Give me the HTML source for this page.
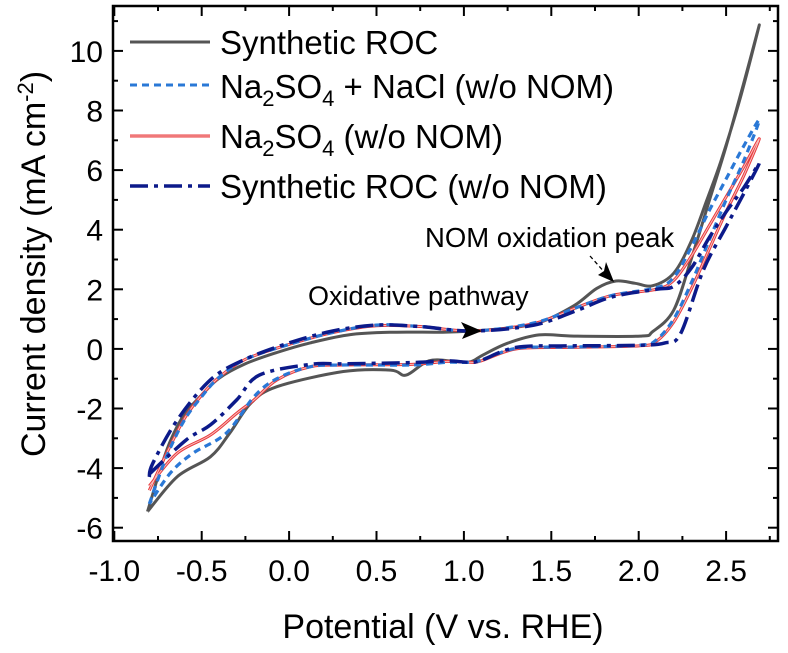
<!DOCTYPE html>
<html><head><meta charset="utf-8"><style>
body{margin:0;background:#fff;}
svg text{font-family:"Liberation Sans",Arial,sans-serif;fill:#000;}
</style></head><body>
<svg id="chart" width="788" height="648" viewBox="0 0 788 648" xmlns="http://www.w3.org/2000/svg">
<g id="axes"></g>
<g id="series"></g>
<g>
 <line x1="130" y1="42" x2="210" y2="42" stroke="#555" stroke-width="3"/>
 <text x="220" y="54" font-size="33">Synthetic ROC</text>
 <line x1="130" y1="85" x2="210" y2="85" stroke="#2a78d6" stroke-width="3" stroke-dasharray="7,5"/>
 <text x="220" y="98" font-size="33">Na<tspan font-size="22" dy="8">2</tspan><tspan dy="-8">SO</tspan><tspan font-size="22" dy="8">4</tspan><tspan dy="-8"> + NaCl (w/o NOM)</tspan></text>
 <line x1="130" y1="136" x2="210" y2="136" stroke="#e8393c" stroke-width="3"/>
 <line x1="130" y1="136" x2="210" y2="136" stroke="#f7b7b5" stroke-width="1"/>
 <text x="220" y="148" font-size="33">Na<tspan font-size="22" dy="8">2</tspan><tspan dy="-8">SO</tspan><tspan font-size="22" dy="8">4</tspan><tspan dy="-8"> (w/o NOM)</tspan></text>
 <line x1="130" y1="186" x2="210" y2="186" stroke="#0c1a8a" stroke-width="3.5" stroke-dasharray="18,6,4,6"/>
 <text x="220" y="198" font-size="33">Synthetic ROC (w/o NOM)</text>
</g>
<g>
 <text x="425" y="247" font-size="27.5">NOM oxidation peak</text>
 <line x1="590" y1="256" x2="606" y2="274" stroke="#000" stroke-width="1.3" stroke-dasharray="4,3"/>
 <polygon points="614,282 598,275 604,271 606,262" fill="#000"/>
 <text x="308" y="305" font-size="27">Oxidative pathway</text>
 <polygon points="482,331 461,322 466,331 462,339" fill="#000"/>
</g>
<text x="443" y="638" font-size="34" text-anchor="middle">Potential (V vs. RHE)</text>
<text transform="translate(45,264) rotate(-90)" font-size="34" text-anchor="middle">Current density (mA cm<tspan font-size="22" dy="-12">-2</tspan><tspan dy="12">)</tspan></text>
</svg>
<script>
const xTicks=[-1.0,-0.5,0.0,0.5,1.0,1.5,2.0,2.5];
const xTickLabels=["-1.0","-0.5","0.0","0.5","1.0","1.5","2.0","2.5"];
const yTicks=[-6,-4,-2,0,2,4,6,8,10];
const yTickLabels=["-6","-4","-2","0","2","4","6","8","10"];
// Synthetic ROC
const rocE=[-0.81,-0.74,-0.68,-0.6,-0.5,-0.4,-0.25,-0.07,0.12,0.35,0.6,0.88,1.05,1.25,1.43,1.63,1.76,1.87,1.98,2.08,2.2,2.3,2.39,2.47,2.58,2.69,2.6,2.5,2.4,2.3,2.2,2.08,2.01,1.63,1.43,1.25,1.11,1.04,0.95,0.8,0.67,0.58,0.31,-0.07,-0.22,-0.34,-0.45,-0.64,-0.81];
const rocI=[-5.46,-4.1,-3.1,-2.2,-1.55,-0.98,-0.5,-0.12,0.2,0.48,0.56,0.56,0.6,0.7,0.88,1.45,2.03,2.28,2.2,2.12,2.54,3.6,5.0,6.3,8.4,10.87,8.9,6.8,4.9,3.0,1.3,0.58,0.43,0.43,0.47,0.19,-0.2,-0.43,-0.42,-0.4,-0.88,-0.71,-0.76,-1.27,-1.83,-2.83,-3.62,-4.29,-5.46];
// Na2SO4 + NaCl
const naclE=[-0.8,-0.7,-0.6,-0.5,-0.4,-0.25,0,0.25,0.5,0.75,1.05,1.4,1.65,1.85,2.1,2.2,2.3,2.4,2.5,2.6,2.69,2.6,2.5,2.4,2.3,2.2,2.1,2.0,1.6,1.3,1.1,1.03,0.9,0.7,0.31,0.12,-0.07,-0.2,-0.36,-0.55,-0.68,-0.8];
const naclI=[-5.2,-3.6,-2.4,-1.6,-0.95,-0.35,0.15,0.55,0.8,0.75,0.6,0.87,1.4,1.8,2.05,2.4,3.4,4.6,5.7,6.8,7.68,6.3,5.0,3.6,2.2,1.0,0.3,0.12,0.06,0.02,-0.38,-0.45,-0.45,-0.54,-0.54,-0.6,-1.0,-1.6,-2.83,-3.5,-4.17,-5.2];
// Na2SO4
const naE=[-0.8,-0.7,-0.6,-0.5,-0.4,-0.25,0,0.25,0.5,0.75,1.05,1.4,1.65,1.85,2.1,2.2,2.3,2.4,2.5,2.6,2.69,2.6,2.5,2.4,2.3,2.2,2.1,2.0,1.6,1.3,1.1,1.03,0.9,0.7,0.31,0.12,-0.07,-0.2,-0.3,-0.45,-0.64,-0.8];
const naI=[-4.75,-3.5,-2.35,-1.55,-0.95,-0.35,0.15,0.55,0.78,0.75,0.6,0.85,1.4,1.8,2.0,2.3,3.1,4.1,5.1,6.1,7.05,5.8,4.6,3.3,2.0,0.9,0.25,0.1,0.05,0.0,-0.4,-0.45,-0.42,-0.52,-0.54,-0.6,-1.04,-1.71,-2.16,-2.89,-3.5,-4.6];
// Synthetic ROC w/o NOM
const woE=[-0.8,-0.78,-0.64,-0.45,-0.26,0,0.25,0.5,0.75,1.05,1.4,1.65,1.85,2.1,2.2,2.3,2.4,2.5,2.6,2.69,2.6,2.5,2.37,2.24,2.15,2.0,1.6,1.3,1.1,1.03,0.9,0.7,0.31,0.12,-0.17,-0.3,-0.45,-0.59,-0.8];
const woI=[-4.3,-3.84,-2.39,-1.04,-0.37,0.2,0.6,0.8,0.75,0.6,0.8,1.3,1.75,2.0,2.1,2.7,3.7,4.6,5.4,6.23,5.2,4.1,2.65,0.52,0.2,0.12,0.1,0.05,-0.38,-0.45,-0.4,-0.46,-0.5,-0.52,-0.88,-1.71,-2.55,-3.06,-4.2];

const X=v=>114.3+(v+1)*174.8;
const Y=v=>348.9-v*29.8;
const NS="http://www.w3.org/2000/svg";
const L=113,R=778,T=6,B=541;
const axes=document.getElementById('axes');
function mk(tag,attrs,parent){const e=document.createElementNS(NS,tag);for(const k in attrs)e.setAttribute(k,attrs[k]);parent.appendChild(e);return e;}
const frame=mk('rect',{x:L,y:T,width:R-L,height:B-T,fill:'none',stroke:'#000','stroke-width':2.5},axes);


xTicks.forEach((v,i)=>{
 const x=X(v);
 const t1=mk('line',{x1:x,y1:B,x2:x,y2:B-10,stroke:'#000','stroke-width':2},axes);
 
 
 const t2=mk('line',{x1:x,y1:T,x2:x,y2:T+10,stroke:'#000','stroke-width':2},axes);
 
 
 const xm=X(v+0.25);
 if(xm<R-2){
  const m1=mk('line',{x1:xm,y1:B,x2:xm,y2:B-5,stroke:'#000','stroke-width':2},axes);
  
  
  const m2=mk('line',{x1:xm,y1:T,x2:xm,y2:T+5,stroke:'#000','stroke-width':2},axes);
  
  
 }
 const lb=mk('text',{x:x,y:B+40,'font-size':30,'text-anchor':'middle'},axes);
 lb.textContent=xTickLabels[i];
 
 
});
yTicks.forEach((v,i)=>{
 const y=Y(v);
 const t1=mk('line',{x1:L,y1:y,x2:L+10,y2:y,stroke:'#000','stroke-width':2},axes);
 
 
 const t2=mk('line',{x1:R,y1:y,x2:R-10,y2:y,stroke:'#000','stroke-width':2},axes);
 
 
 const ym=Y(v+1);
 if(ym>T+2){
  const m1=mk('line',{x1:L,y1:ym,x2:L+5,y2:ym,stroke:'#000','stroke-width':2},axes);
  
  
  const m2=mk('line',{x1:R,y1:ym,x2:R-5,y2:ym,stroke:'#000','stroke-width':2},axes);
  
  
 }
 const lb=mk('text',{x:L-10,y:y+11,'font-size':30,'text-anchor':'end'},axes);
 lb.textContent=yTickLabels[i];
 
 
});
function pathD(E,I){
 const p=E.map((e,i)=>[X(e),Y(I[i])]);
 let d='M'+p[0][0].toFixed(1)+','+p[0][1].toFixed(1);
 for(let i=0;i<p.length-1;i++){
  const p0=p[Math.max(0,i-1)],p1=p[i],p2=p[i+1],p3=p[Math.min(p.length-1,i+2)];
  const c1=[p1[0]+(p2[0]-p0[0])/6,p1[1]+(p2[1]-p0[1])/6];
  const c2=[p2[0]-(p3[0]-p1[0])/6,p2[1]-(p3[1]-p1[1])/6];
  d+=' C'+c1[0].toFixed(1)+','+c1[1].toFixed(1)+' '+c2[0].toFixed(1)+','+c2[1].toFixed(1)+' '+p2[0].toFixed(1)+','+p2[1].toFixed(1);
 }
 return d;
}
const sg=document.getElementById('series');
const s1=mk('path',{d:pathD(rocE,rocI),fill:'none',stroke:'#555','stroke-width':3,'stroke-linejoin':'round'},sg);


const s2=mk('path',{d:pathD(naE,naI),fill:'none',stroke:'#e8393c','stroke-width':3,'stroke-linejoin':'round'},sg);


const s2b=mk('path',{d:pathD(naE,naI),fill:'none',stroke:'#f8c0be','stroke-width':1},sg);


const s3=mk('path',{d:pathD(naclE,naclI),fill:'none',stroke:'#2a78d6','stroke-width':3.2,'stroke-dasharray':'7,5'},sg);


const s4=mk('path',{d:pathD(woE,woI),fill:'none',stroke:'#0c1a8a','stroke-width':3.5,'stroke-dasharray':'18,6,4,6'},sg);


</script>
</body></html>
